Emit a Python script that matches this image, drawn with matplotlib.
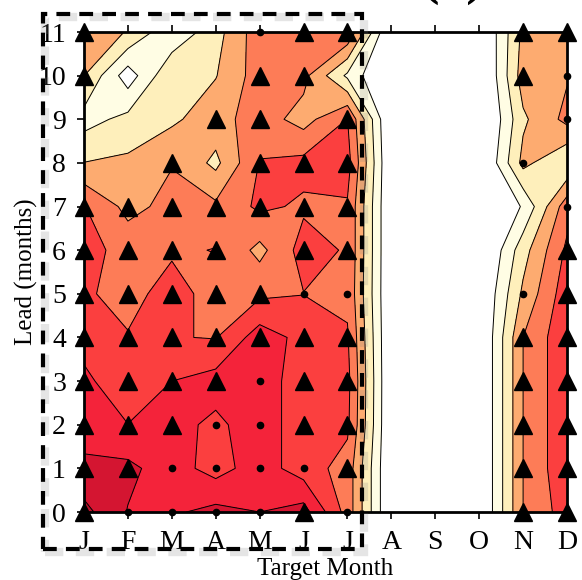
import numpy as np
import matplotlib.pyplot as plt
from matplotlib.patches import Rectangle

plt.rcParams['font.family'] = ['Liberation Serif', 'DejaVu Serif']

months = ['J', 'F', 'M', 'A', 'M', 'J', 'J', 'A', 'S', 'O', 'N', 'D']
leads = list(range(12))

# skill per lead (rows, lead 0 -> 11) and target month (columns J..D)
lead0 = [8.3, 6.95, 6.85, 7.3, 7.0, 7.4, 4.6, -0.2, -0.8, -0.3, 4.0, 5.5]
lead1 = [7.25, 7.25, 6.45, 5.6, 6.5, 5.5, 4.6, -0.2, -0.8, -0.3, 4.0, 5.8]
lead2 = [6.5, 6.02, 6.3, 5.8, 6.5, 5.5, 5.2, -0.2, -0.8, -0.3, 4.0, 5.8]
lead3 = [6.3, 5.1, 6.0, 6.4, 6.4, 5.6, 5.3, -0.2, -0.8, -0.3, 4.0, 5.8]
lead4 = [5.5, 5.1, 5.05, 4.95, 6.5, 5.7, 5.1, -0.2, -0.8, -0.3, 4.0, 5.8]
lead5 = [5.2, 4.5, 5.6, 4.4, 4.8, 4.98, 4.8, -0.2, -0.8, -0.25, 3.2, 5.6]
lead6 = [5.4, 4.6, 4.8, 5.05, 3.7, 5.4, 4.9, -0.2, -0.8, -0.6, 2.6, 5.2]
lead7 = [5.05, 3.7, 4.3, 4.2, 5.2, 4.85, 4.9, -0.2, -0.8, -0.5, 1.1, 4.6]
lead8 = [3.02, 3.2, 3.95, 2.75, 5.05, 5.3, 5.4, -0.2, -0.8, -0.5, 3.3, 2.0]
lead9 = [1.6, 2.3, 2.8, 3.6, 4.5, 3.6, 5.02, -0.3, -0.8, -0.75, 2.82, 4.3]
lead10 = [3.02, 0.45, 2.9, 2.95, 4.5, 4.3, 1.8, -0.5, -0.8, -0.6, 3.5, 3.9]
lead11 = [3.5, 2.95, 1.2, 2.6, 4.6, 4.7, 4.9, -0.3, -0.5, -0.44, 3.26, 3.5]

# significance: T = triangle, o = dot, . = none  (lead 11 at top)
sig = [
    'T...oTT...TT',
    'T...TT....To',
    '...TT.T....o',
    '..T.TTT...o.',
    'TTTTTTT....o',
    'TTTT.TT....T',
    'TTTTToo...oT',
    'TTTTTTT...TT',
    'TTTToTT...TT',
    'TTTooTT...TT',
    'TTooooT...TT',
    'TooooTo...TT',
]

levels = [-10, 1, 2, 3, 4, 5, 6, 7, 8, 10]
colors = ['#ffffff', '#fffde4', '#feefbb', '#fdab70', '#fd7c57',
          '#fb3f3f', '#f4233a', '#d41531', '#b8102b']

z = np.array([lead0, lead1, lead2, lead3, lead4, lead5,
              lead6, lead7, lead8, lead9, lead10, lead11])
x = np.arange(12)
y = np.arange(12)

fig = plt.figure(figsize=(5.82, 5.80), dpi=100)
ax = fig.add_axes([84 / 582, 68 / 580, 483 / 582, 480 / 580])

ax.contourf(x, y, z, levels=levels, colors=colors)
ax.contour(x, y, z, levels=levels[1:-1], colors='k', linewidths=0.7)

for r, row in enumerate(sig):
    lead = 11 - r
    for m, c in enumerate(row):
        if c == 'T':
            ax.plot(m, lead, marker='^', color='k', markersize=13,
                    clip_on=False, zorder=10)
        elif c == 'o':
            ax.plot(m, lead, marker='o', color='k', markersize=4.5,
                    clip_on=False, zorder=10)

ax.set_xlim(0, 11)
ax.set_ylim(0, 11)
ax.set_xticks(x)
ax.set_xticklabels(months)
ax.set_yticks(leads)
ax.tick_params(direction='out', length=5, width=1.2, labelsize=20,
               top=True, pad=8)
for s in ax.spines.values():
    s.set_linewidth(2)

ax.set_xlabel('Target Month', fontsize=18, labelpad=2)
ax.set_ylabel('Lead (months)', fontsize=18, labelpad=0)

# dashed box around Jan-Jul, with a soft shadow
shadow = Rectangle((45 / 582, 1 - 552 / 580), 319 / 582, 535 / 580,
                   transform=fig.transFigure, fill=False, color='0.5',
                   alpha=0.2, lw=6, ls=(0, (2.2, 1.5)), zorder=20)
fig.add_artist(shadow)
box = Rectangle((43 / 582, 1 - 549 / 580), 319 / 582, 535 / 580,
                transform=fig.transFigure, fill=False, color='k',
                lw=3, ls=(0, (3.3, 2.2)), zorder=21)
fig.add_artist(box)

# panel title, cut by the top edge as in the source figure
fig.text(453 / 582, 1.013, '(a)', ha='center', va='baseline',
         fontsize=40, fontweight='bold')

fig.savefig('out.png', dpi=100)
